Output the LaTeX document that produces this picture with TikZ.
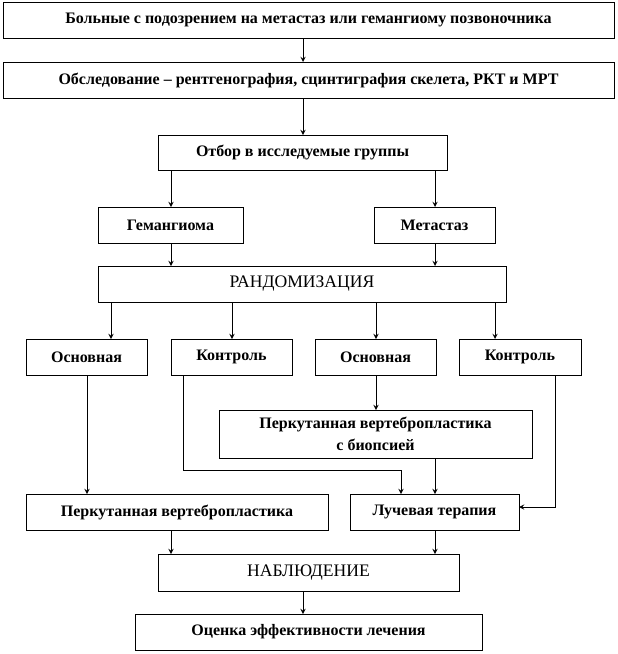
\documentclass[tikz,border=0pt]{standalone}
\usepackage{fontspec}
\setmainfont{Liberation Serif}
\tikzstyle{edge}=[->, >=stealth, line width=0.75pt]
\tikzstyle{box}=[rectangle, draw, line width=0.75pt, fill=white,
                 inner sep=0pt, outer sep=0pt, align=center,
                 font=\fontsize{12}{16}\selectfont\bfseries]
\tikzstyle{capbox}=[box, font=\fontsize{13.2}{16}\selectfont]

\begin{document}
\begin{tikzpicture}[x=0.75pt, y=-0.75pt]
   \useasboundingbox (0,0) rectangle (618,654);
   \node (pat)  at (308.5,20)   [box, minimum width=611pt*0.75, minimum height=27pt]{Больные с подозрением на метастаз или гемангиому позвоночника};
   \node (exam) at (308.5,80)   [box, minimum width=611pt*0.75, minimum height=27pt]{Обследование -- рентгенография, сцинтиграфия скелета, РКТ и МРТ};
   \node (sel)  at (302.5,152.5)[box, minimum width=289pt*0.75, minimum height=26.25pt]{Отбор в исследуемые группы};
   \node (gem)  at (170.5,225)  [box, minimum width=145pt*0.75, minimum height=27pt]{Гемангиома};
   \node (met)  at (434.5,225)  [box, minimum width=121pt*0.75, minimum height=27pt]{Метастаз};
   \node (rand) at (302,284)    [capbox, minimum width=408pt*0.75, minimum height=27pt]{РАНДОМИЗАЦИЯ};
   \node (osa)  at (86.5,357)   [box, minimum width=121pt*0.75, minimum height=27pt]{Основная};
   \node (kna)  at (231.5,357)  [box, minimum width=121pt*0.75, minimum height=27pt]{Контроль};
   \node (osb)  at (375.5,357)  [box, minimum width=121pt*0.75, minimum height=27pt]{Основная};
   \node (knb)  at (520,357)    [box, minimum width=122pt*0.75, minimum height=27pt]{Контроль};
   \node (pvb)  at (375.5,434)  [box, minimum width=313pt*0.75, minimum height=36pt]{Перкутанная вертебропластика\\с биопсией};
   \node (pv)   at (177,512)    [box, minimum width=302pt*0.75, minimum height=27pt]{Перкутанная вертебропластика};
   \node (lt)   at (434.5,512)  [box, minimum width=169pt*0.75, minimum height=27pt]{Лучевая терапия};
   \node (obs)  at (308.5,572.5)[capbox, minimum width=301pt*0.75, minimum height=27.75pt]{НАБЛЮДЕНИЕ};
   \node (eff)  at (308.5,632)  [box, minimum width=347pt*0.75, minimum height=27pt]{Оценка эффективности лечения};

   \foreach \u/\v/\x in {pat/exam/303,exam/sel/303,sel/gem/171,sel/met/435,
                         gem/rand/171,met/rand/435,rand/osa/111,rand/kna/232,
                         rand/osb/376,rand/knb/495,osa/pv/87,osb/pvb/376,
                         pvb/lt/435,pv/obs/171,lt/obs/435,obs/eff/303}
     \draw [edge] (\u.south -| \x,0) to (\v.north -| \x,0);
   \draw [edge] (kna.south -| 183,0) |- (401,470) -- (lt.north -| 401,0);
   \draw [edge] (knb.south -| 555,0) |- (lt.east |- 0,507);
\end{tikzpicture}
\end{document}
